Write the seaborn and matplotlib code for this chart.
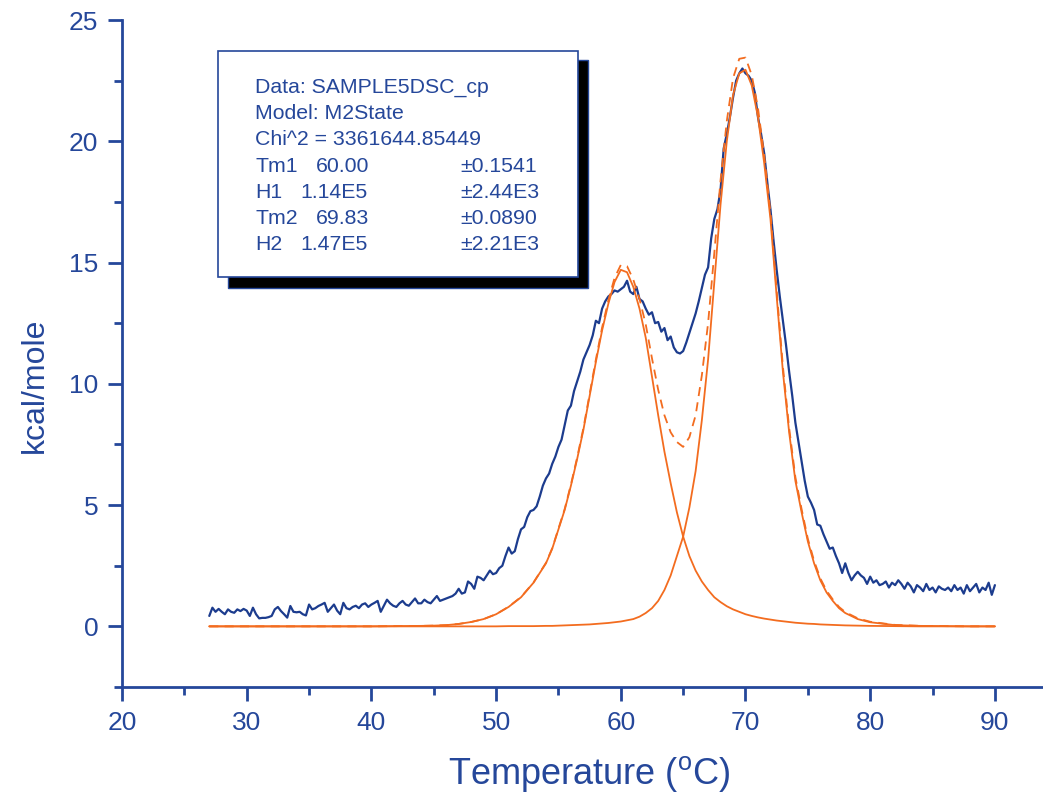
import numpy as np
import pandas as pd
import matplotlib
matplotlib.use("Agg")
import matplotlib.pyplot as plt
from matplotlib.patches import Rectangle
from matplotlib.ticker import MultipleLocator
import seaborn as sns

# ---------------- data ----------------
# measured excess heat capacity (kcal/mole), sampled every 0.25 degC from 27 degC
temp_start = 27.0
temp_step = 0.25
cp_measured = [
    0.43, 0.77, 0.60, 0.72,   # 27
    0.60, 0.50, 0.70, 0.60,   # 28
    0.56, 0.70, 0.63, 0.72,   # 29
    0.65, 0.43, 0.77, 0.50,   # 30
    0.33, 0.35, 0.35, 0.38,   # 31
    0.43, 0.70, 0.80, 0.63,   # 32
    0.50, 0.36, 0.84, 0.60,   # 33
    0.58, 0.60, 0.50, 0.45,   # 34
    0.90, 0.70, 0.75, 0.84,   # 35
    0.90, 0.97, 0.60, 0.75,   # 36
    0.90, 0.65, 0.50, 0.97,   # 37
    0.75, 0.70, 0.80, 0.85,   # 38
    0.75, 0.90, 0.95, 0.80,   # 39
    0.90, 0.97, 1.05, 0.60,   # 40
    0.85, 1.10, 0.95, 0.85,   # 41
    0.80, 0.95, 1.05, 0.90,   # 42
    0.85, 1.00, 1.15, 0.95,   # 43
    0.95, 1.10, 1.00, 0.95,   # 44
    1.10, 1.25, 1.05, 1.10,   # 45
    1.15, 1.20, 1.25, 1.35,   # 46
    1.55, 1.35, 1.40, 1.85,   # 47
    1.75, 1.55, 2.05, 2.00,   # 48
    1.90, 2.10, 2.30, 2.15,   # 49
    2.20, 2.40, 2.50, 2.90,   # 50
    3.25, 3.00, 3.10, 3.60,   # 51
    4.00, 4.10, 4.50, 4.75,   # 52
    4.80, 4.95, 5.35, 5.80,   # 53
    6.10, 6.30, 6.70, 7.00,   # 54
    7.40, 7.70, 8.30, 8.90,   # 55
    9.10, 9.70, 10.10, 10.50, # 56
    11.00, 11.30, 11.60, 12.00,  # 57
    12.60, 12.50, 13.10, 13.40,  # 58
    13.60, 13.70, 13.85, 13.80,  # 59
    13.90, 14.00, 14.25, 13.80,  # 60
    13.70, 14.00, 13.50, 13.40,  # 61
    13.10, 12.85, 12.95, 12.50,  # 62
    12.55, 12.15, 12.30, 11.80,  # 63
    11.95, 11.50, 11.30, 11.25,  # 64
    11.35, 11.70, 12.10, 12.50,  # 65
    12.90, 13.40, 13.95, 14.50,  # 66
    14.80, 16.00, 16.80, 17.20,  # 67
    18.00, 19.70, 20.30, 21.00,  # 68
    21.80, 22.50, 22.80, 23.00,  # 69
    22.80, 22.70, 22.50, 22.00,  # 70
    21.00, 20.30, 19.50, 18.30,  # 71
    17.20, 15.90, 14.70, 13.60,  # 72
    12.60, 11.60, 10.50, 9.50,   # 73
    8.40, 7.60, 6.80, 6.00,      # 74
    5.35, 5.10, 4.80, 4.20,      # 75
    4.15, 3.80, 3.50, 3.20,      # 76
    3.25, 2.90, 2.60, 2.20,      # 77
    2.60, 2.20, 1.90, 2.10,      # 78
    2.25, 2.10, 2.00, 1.75,      # 79
    2.05, 1.80, 1.90, 1.70,      # 80
    1.75, 1.85, 1.60, 1.80,      # 81
    1.70, 1.90, 1.75, 1.55,      # 82
    1.80, 1.65, 1.40, 1.70,      # 83
    1.60, 1.45, 1.75, 1.50,      # 84
    1.60, 1.40, 1.65, 1.55,      # 85
    1.50, 1.60, 1.45, 1.70,      # 86
    1.50, 1.60, 1.35, 1.70,      # 87
    1.45, 1.60, 1.75, 1.40,      # 88
    1.60, 1.50, 1.80, 1.30,      # 89
    1.70,                        # 90
]

# fitted two-state components
fit_temperature = [27, 30, 35, 40, 42, 44,
                   45, 46, 47, 48, 49, 50, 51, 52, 53,
                   54, 54.5, 55, 55.5, 56, 56.5, 57, 57.5, 58, 58.5, 59, 59.5,
                   60, 60.5, 61, 61.5, 62, 62.5, 63, 63.5, 64, 64.5, 65, 65.5,
                   66, 66.5, 67, 67.5, 68, 68.5, 69, 69.5, 70, 70.5, 71, 71.5,
                   72, 72.5, 73, 73.5, 74, 74.5, 75, 75.5, 76, 76.5, 77, 77.5, 78,
                   79, 80, 82, 84, 86, 88, 90]
fit_peak1 = [0, 0, 0, 0, 0.01, 0.02,
             0.03, 0.05, 0.10, 0.18, 0.30, 0.50, 0.80, 1.20, 1.80,
             2.6, 3.2, 4.0, 4.8, 5.8, 6.9, 8.1, 9.5, 10.9, 12.2, 13.3, 14.2,
             14.7, 14.6, 14.0, 13.1, 11.9, 10.3, 8.7, 7.2, 5.9, 4.7, 3.7, 2.9,
             2.3, 1.85, 1.5, 1.2, 1.0, 0.83, 0.7, 0.6, 0.5, 0.43, 0.37, 0.32,
             0.28, 0.24, 0.21, 0.18, 0.15, 0.13, 0.11, 0.10, 0.08, 0.07, 0.06, 0.05, 0.04,
             0.03, 0.02, 0.01, 0, 0, 0, 0]
fit_peak2 = [0, 0, 0, 0, 0, 0,
             0, 0, 0, 0, 0, 0, 0.01, 0.01, 0.01,
             0.02, 0.02, 0.03, 0.04, 0.05, 0.06, 0.07, 0.08, 0.10, 0.12, 0.14, 0.17,
             0.20, 0.25, 0.30, 0.40, 0.55, 0.75, 1.05, 1.5, 2.1, 2.9, 3.7, 4.9,
             6.4, 8.5, 11.0, 14.2, 17.4, 20.0, 21.9, 22.8, 22.95, 22.3, 21.0, 19.1,
             16.8, 13.6, 10.5, 8.0, 6.0, 4.7, 3.5, 2.6, 1.9, 1.4, 1.05, 0.75, 0.55,
             0.30, 0.17, 0.05, 0.02, 0.01, 0, 0]

info_labels = ["Tm1", "H1", "Tm2", "H2"]
info_values = ["60.00", "1.14E5", "69.83", "1.47E5"]
info_errors = ["\u00b10.1541", "\u00b12.44E3", "\u00b10.0890", "\u00b12.21E3"]
header_lines = ["Data: SAMPLE5DSC_cp", "Model: M2State", "Chi^2 = 3361644.85449"]

# ---------------- styling ----------------
sns.set_theme(style="ticks")
plt.rcParams['font.family'] = ['Liberation Sans', 'DejaVu Sans']
plt.rcParams['mathtext.fontset'] = 'custom'
plt.rcParams['mathtext.rm'] = 'Liberation Sans'

C_AX = "#25479a"
C_DATA = "#1c3c8e"
C_FIT = "#f36c1f"

W, H = 1043, 792
fig = plt.figure(figsize=(W / 100, H / 100), dpi=100)
fig.patch.set_facecolor("white")
ax = fig.add_axes([122 / W, 1 - 687 / H, (W - 122) / W, (687 - 20) / H])
ax.set_facecolor("white")

measured = pd.DataFrame({
    "T": temp_start + temp_step * np.arange(len(cp_measured)),
    "cp": cp_measured,
})
fits = pd.DataFrame({"T": fit_temperature, "p1": fit_peak1, "p2": fit_peak2})
fits["sum"] = fits["p1"] + fits["p2"]

sns.lineplot(data=measured, x="T", y="cp", ax=ax, color=C_DATA, lw=1.6,
             estimator=None, sort=False)
sns.lineplot(data=fits, x="T", y="p1", ax=ax, color=C_FIT, lw=1.3,
             estimator=None, sort=False)
sns.lineplot(data=fits, x="T", y="p2", ax=ax, color=C_FIT, lw=1.3,
             estimator=None, sort=False)
sns.lineplot(data=fits, x="T", y="sum", ax=ax, color=C_FIT, lw=1.3,
             estimator=None, sort=False)
ax.lines[-1].set_dashes([5, 3.5])

ax.set_xlim(20, 20 + (W - 122) / 12.47)
ax.set_ylim(-2.5, 25)
ax.xaxis.set_major_locator(MultipleLocator(10))
ax.xaxis.set_minor_locator(MultipleLocator(5))
ax.yaxis.set_major_locator(MultipleLocator(5))
ax.yaxis.set_minor_locator(MultipleLocator(2.5))

for side in ["top", "right"]:
    ax.spines[side].set_visible(False)
for side in ["left", "bottom"]:
    ax.spines[side].set_color(C_AX)
    ax.spines[side].set_linewidth(2.0)

ax.tick_params(which="major", direction="out", length=10, width=2,
               color=C_AX, labelcolor=C_AX, labelsize=19, pad=7)
ax.tick_params(which="minor", direction="out", length=5.5, width=2, color=C_AX)
ax.grid(False)

ax.set_xlabel("Temperature ($^{\\mathrm{o}}$C)", fontsize=26, color=C_AX)
ax.set_ylabel("kcal/mole", fontsize=23, color=C_AX)
ax.xaxis.set_label_coords((589 - 122) / (W - 122), (687 - 754) / (687 - 20))
ax.yaxis.set_label_coords((50 - 122) / (W - 122), (687 - 385) / (687 - 20))


def fx(px):
    return px / W


def fy(py):
    return 1 - py / H


# info box with drop shadow
shadow = Rectangle((fx(228), fy(288)), fx(588) - fx(228), fy(60) - fy(288),
                   transform=fig.transFigure, facecolor="black",
                   edgecolor=C_AX, lw=1.0, zorder=5)
box = Rectangle((fx(218), fy(277)), fx(578) - fx(218), fy(51) - fy(277),
                transform=fig.transFigure, facecolor="white",
                edgecolor=C_AX, lw=1.2, zorder=6)
fig.add_artist(shadow)
fig.add_artist(box)

FS = 15.3
base = 93
step = 26.2
for i, line in enumerate(header_lines):
    fig.text(fx(255), fy(base + i * step), line, fontsize=FS, color=C_AX,
             ha="left", va="baseline", zorder=7)
value_x = [316, 300, 316, 300]
for j, (lab, val, err) in enumerate(zip(info_labels, info_values, info_errors)):
    yy = fy(base + (j + 3) * step)
    fig.text(fx(255), yy, lab, fontsize=FS, color=C_AX, ha="left",
             va="baseline", zorder=7)
    fig.text(fx(value_x[j]), yy, val, fontsize=FS, color=C_AX, ha="left",
             va="baseline", zorder=7)
    fig.text(fx(460), yy, err, fontsize=FS, color=C_AX, ha="left",
             va="baseline", zorder=7)

fig.savefig("out.png", dpi=100, facecolor="white")
